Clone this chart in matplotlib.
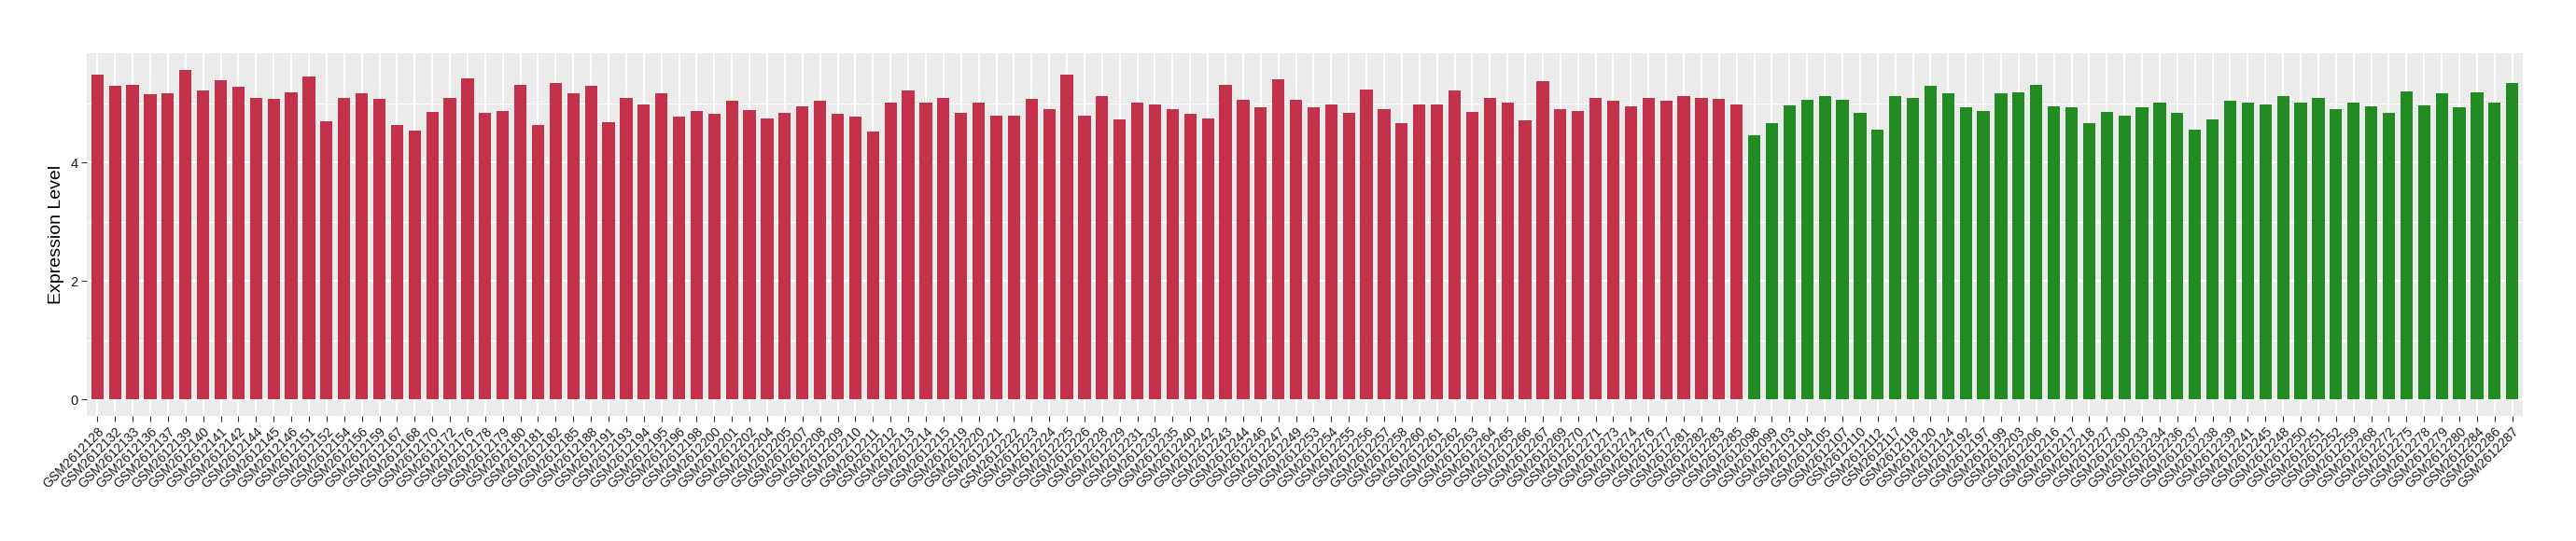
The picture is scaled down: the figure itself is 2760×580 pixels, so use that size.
import matplotlib
matplotlib.use("Agg")
import matplotlib.pyplot as plt
import matplotlib.transforms as mtransforms
from matplotlib.ticker import MultipleLocator

# sample ids (suffix after GSM2612) and expression values
red_ids = [
    "128", "132", "133", "136", "137", "139", "140", "141", "142", "144",
    "145", "146", "151", "152", "154", "156", "159", "167", "168", "170",
    "172", "176", "178", "179", "180", "181", "182", "185", "188", "191",
    "193", "194", "195", "196", "198", "200", "201", "202", "204", "205",
    "207", "208", "209", "210", "211", "212", "213", "214", "215", "219",
    "220", "221", "222", "223", "224", "225", "226", "228", "229", "231",
    "232", "235", "240", "242", "243", "244", "246", "247", "249", "253",
    "254", "255", "256", "257", "258", "260", "261", "262", "263", "264",
    "265", "266", "267", "269", "270", "271", "273", "274", "276", "277",
    "281", "282", "283", "285",
]
red_values = [
    5.48, 5.29, 5.31, 5.15, 5.17, 5.57, 5.22, 5.39, 5.28, 5.10,
    5.07, 5.18, 5.45, 4.70, 5.09, 5.17, 5.07, 4.64, 4.54, 4.85,
    5.09, 5.42, 4.84, 4.87, 5.32, 4.64, 5.34, 5.17, 5.29, 4.68,
    5.10, 4.99, 5.17, 4.77, 4.87, 4.82, 5.04, 4.88, 4.74, 4.84,
    4.95, 5.04, 4.82, 4.77, 4.52, 5.02, 5.22, 5.01, 5.10, 4.84,
    5.01, 4.80, 4.80, 5.07, 4.91, 5.49, 4.79, 5.12, 4.73, 5.02,
    4.98, 4.90, 4.82, 4.75, 5.31, 5.06, 4.93, 5.40, 5.06, 4.93,
    4.98, 4.84, 5.24, 4.90, 4.66, 4.99, 4.99, 5.22, 4.85, 5.09,
    5.02, 4.71, 5.37, 4.91, 4.87, 5.10, 5.04, 4.95, 5.09, 5.04,
    5.12, 5.10, 5.07, 4.99,
]
green_ids = [
    "098", "099", "103", "104", "105", "107", "110", "112", "117", "118",
    "120", "124", "192", "197", "199", "203", "206", "216", "217", "218",
    "227", "230", "233", "234", "236", "237", "238", "239", "241", "245",
    "248", "250", "251", "252", "259", "268", "272", "275", "278", "279",
    "280", "284", "286", "287",
]
green_values = [
    4.46, 4.66, 4.96, 5.06, 5.13, 5.06, 4.84, 4.55, 5.12, 5.09,
    5.29, 5.17, 4.93, 4.87, 5.17, 5.18, 5.31, 4.95, 4.93, 4.66,
    4.85, 4.79, 4.93, 5.01, 4.84, 4.55, 4.73, 5.04, 5.02, 4.98,
    5.13, 5.02, 5.09, 4.90, 5.01, 4.95, 4.84, 5.21, 4.96, 5.17,
    4.93, 5.18, 5.01, 5.35,
]

RED = "#C3314A"
GREEN = "#228B22"
PANEL_BG = "#EBEBEB"

labels = ["GSM2612" + s for s in red_ids + green_ids]
values = red_values + green_values
colors = [RED] * len(red_ids) + [GREEN] * len(green_ids)
n = len(labels)
xs = list(range(n))

W, H = 2760, 580
fig = plt.figure(figsize=(W / 100, H / 100), dpi=100, facecolor="white")
plt.rcParams["font.family"] = ["Liberation Sans", "DejaVu Sans"]
ax = fig.add_axes([93 / W, 1 - 446 / H, (2703 - 93) / W, (446 - 57) / H])
ax.set_facecolor(PANEL_BG)

ax.bar(xs, values, width=0.7, color=colors, zorder=3)

# ggplot-style expansion: 5% on y, 0.6 units on the discrete x
ymax = max(values)
ax.set_ylim(-0.05 * ymax, 1.05 * ymax)
ax.set_xlim(-0.6, n - 1 + 0.6)

ax.yaxis.set_major_locator(MultipleLocator(2))
ax.yaxis.set_minor_locator(MultipleLocator(1))
ax.grid(which="major", axis="both", color="white", linewidth=1.6, zorder=0)
ax.grid(which="minor", axis="y", color="white", linewidth=0.8, zorder=0)
ax.set_axisbelow(True)

for sp in ax.spines.values():
    sp.set_visible(False)

ax.set_xticks(xs)
ax.set_xticklabels(labels, rotation=45, ha="right", va="top",
                   rotation_mode="anchor", fontsize=10, color="#1A1A1A")
offset = mtransforms.ScaledTranslation(6 / 100, 0, fig.dpi_scale_trans)
for lbl in ax.get_xticklabels():
    lbl.set_transform(lbl.get_transform() + offset)

ax.tick_params(axis="both", which="major", length=4, width=0.8,
               color="#333333", labelcolor="#1A1A1A", pad=3)
ax.tick_params(axis="x", labelsize=10)
ax.tick_params(axis="y", labelsize=10.5)
ax.tick_params(axis="y", which="minor", length=0)
ax.set_ylabel("Expression Level", fontsize=14, labelpad=4)

fig.savefig("out.png", dpi=100, facecolor="white")
